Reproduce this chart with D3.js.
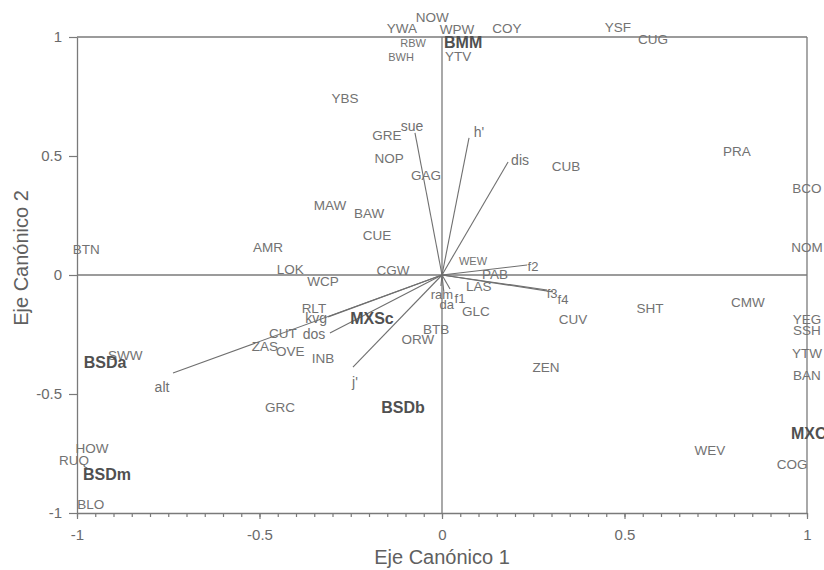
<!DOCTYPE html>
<html>
<head>
<meta charset="utf-8">
<script src="https://cdn.jsdelivr.net/npm/d3@7"></script>
<style>
  body { margin: 0; background: #fff; }
  svg { display: block; font-family: "Liberation Sans", Arial, sans-serif; }
</style>
</head>
<body>
<svg id="chart"></svg>
<script>
// species scores (site/species codes)
const SPECIES = ['NOW', 'YWA', 'WPW', 'COY', 'RBW', 'BWH', 'YTV', 'YBS', 'GRE', 'NOP', 'GAG',
    'YSF', 'CUG', 'CUB', 'PRA', 'BCO', 'BTN', 'AMR', 'SWW', 'MAW', 'BAW', 'CUE', 'LOK',
    'WCP', 'CGW', 'WEW', 'PAB', 'LAS', 'RLT', 'CUT', 'ZAS', 'OVE', 'INB', 'GLC', 'BTB',
    'ORW', 'CUV', 'NOM', 'CMW', 'SHT', 'ZEN', 'YEG', 'SSH', 'YTW', 'BAN', 'HOW', 'RUQ',
    'BLO', 'GRC', 'WEV', 'COG'];
const SPECIES_X = [-0.027, -0.110, 0.041, 0.178, -0.079, -0.112, 0.044, -0.266, -0.151, -0.145, -0.044,
    0.482, 0.578, 0.340, 0.808, 1.000, -0.975, -0.477, -0.868, -0.307, -0.200, -0.178, -0.416,
    -0.326, -0.134, 0.085, 0.145, 0.101, -0.351, -0.436, -0.485, -0.416, -0.326, 0.093, -0.016,
    -0.066, 0.359, 1.000, 0.838, 0.570, 0.285, 1.000, 1.000, 1.000, 1.000, -0.959, -1.008,
    -0.962, -0.444, 0.734, 0.959];
const SPECIES_Y = [1.084, 1.038, 1.034, 1.038, 0.975, 0.916, 0.920, 0.744, 0.588, 0.492, 0.420,
    1.042, 0.992, 0.458, 0.521, 0.366, 0.109, 0.118, -0.336, 0.294, 0.261, 0.168, 0.025,
    -0.025, 0.021, 0.059, 0.004, -0.046, -0.139, -0.244, -0.298, -0.319, -0.349, -0.151, -0.227,
    -0.269, -0.185, 0.118, -0.113, -0.139, -0.387, -0.185, -0.231, -0.328, -0.420, -0.727, -0.777,
    -0.962, -0.555, -0.735, -0.794];

// group centroids
const GROUPS = ['BMM', 'MXSc', 'BSDa', 'BSDb', 'BSDm', 'MXC'];
const GROUP_X = [0.058, -0.192, -0.923, -0.107, -0.918, 1.005];
const GROUP_Y = [0.979, -0.181, -0.366, -0.555, -0.836, -0.664];

// environmental variables (vector end points)
const VARS = ['sue', "h'", 'dis', 'f2', 'f3', 'f4', 'alt', 'kvg', 'dos', "j'", 'ram', 'da', 'f1'];
const VAR_X = [-0.074, 0.074, 0.181, 0.233, 0.288, 0.304, -0.737, -0.312, -0.307, -0.244, -0.003, 0.005, 0.022];
const VAR_Y = [0.597, 0.576, 0.475, 0.042, -0.063, -0.071, -0.412, -0.176, -0.244, -0.387, -0.046, -0.071, -0.059];

const TICKS = [-1, -0.5, 0, 0.5, 1];

// label offsets for the vector labels (px)
const VAR_LABEL_OFFSET = {
    'sue': [-3, -7], "h'": [10, -6], 'dis': [12, -2], 'f2': [6, 1], 'f3': [5, 3], 'f4': [10, 8],
    'alt': [-11, 14], 'kvg': [-12, 1], 'dos': [-16, 1], "j'": [2, 15], 'ram': [1, 9], 'da': [3, 13], 'f1': [10, 9]
};
const SMALL = ['RBW', 'BWH', 'WEW'];

const WIDTH = 824, HEIGHT = 570;
const svg = d3.select('#chart').attr('width', WIDTH).attr('height', HEIGHT);

const x = d3.scaleLinear().domain([-1, 1]).range([77, 807]);
const y = d3.scaleLinear().domain([-1, 1]).range([513, 37]);

const LINE = '#7a7a7a';
const fmt = d => String(d); // plain hyphen minus, as in the original

/* axes */
const xAxis = svg.append('g').attr('transform', `translate(0, ${y(-1)})`)
    .call(d3.axisBottom(x).tickValues(d3.range(-1, 1.0001, 0.05)).tickSize(4)
        .tickFormat(() => '').tickSizeOuter(0));
xAxis.select('.domain').attr('stroke', LINE).attr('stroke-width', 1.3);
xAxis.selectAll('.tick line').attr('stroke', LINE).attr('stroke-width', 1.2);

const xMajor = svg.append('g').attr('transform', `translate(0, ${y(-1)})`)
    .call(d3.axisBottom(x).tickValues(TICKS).tickSize(6).tickPadding(10)
        .tickFormat(fmt).tickSizeOuter(0));
xMajor.select('.domain').remove();
xMajor.selectAll('.tick line').attr('stroke', LINE).attr('stroke-width', 1.2);
xMajor.selectAll('text').attr('fill', '#6a6a6a').style('font-size', '15px')
    .style('font-family', '"Liberation Sans", Arial, sans-serif');

const yAxis = svg.append('g').attr('transform', `translate(${x(-1)}, 0)`)
    .call(d3.axisLeft(y).tickValues(TICKS).tickSize(8).tickPadding(7)
        .tickFormat(fmt).tickSizeOuter(0));
yAxis.select('.domain').attr('stroke', LINE).attr('stroke-width', 1.3);
yAxis.selectAll('.tick line').attr('stroke', LINE).attr('stroke-width', 1.2);
yAxis.selectAll('text').attr('fill', '#6a6a6a').style('font-size', '15px')
    .style('font-family', '"Liberation Sans", Arial, sans-serif');

// frame top/right and zero lines
const frame = svg.append('g').attr('stroke', LINE).attr('stroke-width', 1.3).attr('fill', 'none');
frame.append('line').attr('x1', x(-1)).attr('x2', x(1)).attr('y1', y(1)).attr('y2', y(1));
frame.append('line').attr('x1', x(1)).attr('x2', x(1)).attr('y1', y(1)).attr('y2', y(-1));
frame.append('line').attr('x1', x(-1)).attr('x2', x(1)).attr('y1', y(0)).attr('y2', y(0));
frame.append('line').attr('x1', x(0)).attr('x2', x(0)).attr('y1', y(1)).attr('y2', y(-1));

/* vectors */
const vars = VARS.map((name, i) => ({name, vx: VAR_X[i], vy: VAR_Y[i]}));
svg.append('g').selectAll('line').data(vars).enter().append('line')
    .attr('x1', x(0)).attr('y1', y(0))
    .attr('x2', d => x(d.vx)).attr('y2', d => y(d.vy))
    .attr('stroke', '#6f6f6f').attr('stroke-width', 1.1);

svg.append('g').selectAll('text').data(vars).enter().append('text')
    .text(d => d.name)
    .attr('x', d => x(d.vx) + VAR_LABEL_OFFSET[d.name][0])
    .attr('y', d => y(d.vy) + VAR_LABEL_OFFSET[d.name][1])
    .attr('dy', '0.35em')
    .attr('text-anchor', 'middle')
    .attr('fill', '#707070')
    .style('font-size', d => ['ram', 'da', 'f1', 'f3', 'f4', 'f2'].includes(d.name) ? '13px' : '14px');

/* species */
const species = SPECIES.map((name, i) => ({name, sx: SPECIES_X[i], sy: SPECIES_Y[i]}));
svg.append('g').selectAll('text').data(species).enter().append('text')
    .text(d => d.name)
    .attr('x', d => x(d.sx))
    .attr('y', d => y(d.sy))
    .attr('dy', '0.35em')
    .attr('text-anchor', 'middle')
    .attr('fill', '#727272')
    .style('font-size', d => SMALL.includes(d.name) ? '11px' : '13.5px');

/* groups */
const groups = GROUPS.map((name, i) => ({name, gx: GROUP_X[i], gy: GROUP_Y[i]}));
svg.append('g').selectAll('text').data(groups).enter().append('text')
    .text(d => d.name)
    .attr('x', d => x(d.gx))
    .attr('y', d => y(d.gy))
    .attr('dy', '0.35em')
    .attr('text-anchor', 'middle')
    .attr('fill', '#505050')
    .style('font-weight', 'bold')
    .style('font-size', '16px');

/* axis titles */
svg.append('text').text('Eje Canónico 1')
    .attr('x', x(0)).attr('y', 564)
    .attr('text-anchor', 'middle').attr('fill', '#606060').style('font-size', '20px');
svg.append('text').text('Eje Canónico 2')
    .attr('transform', `translate(28, ${y(0) - 17}) rotate(-90)`)
    .attr('text-anchor', 'middle').attr('fill', '#606060').style('font-size', '20px');
</script>
</body>
</html>
